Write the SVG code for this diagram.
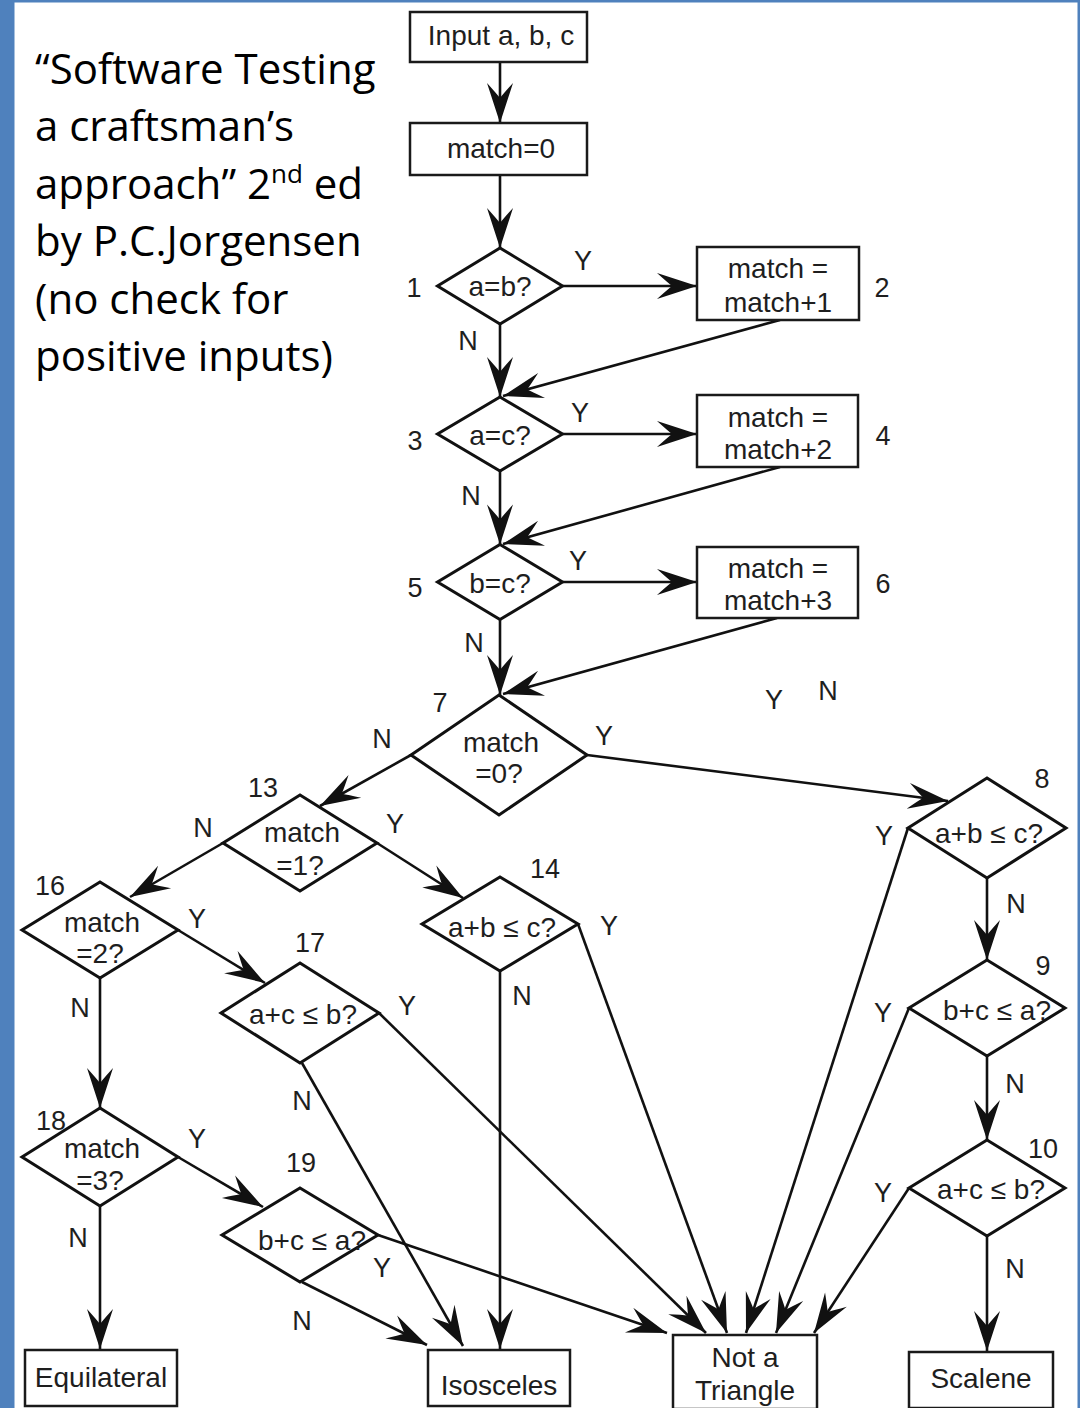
<svg xmlns="http://www.w3.org/2000/svg" width="1080" height="1408" viewBox="0 0 1080 1408">
<style>
.bx{fill:#fff;stroke:#1a1a1a;stroke-width:2.5}
.dm{fill:#fff;stroke:#111;stroke-width:3;stroke-linejoin:miter}
.t{font-family:"Liberation Sans",Arial,sans-serif;font-size:28px;fill:#1e1e1e;text-anchor:middle}
.l{font-family:"Liberation Sans",Arial,sans-serif;font-size:27px;fill:#1e1e1e;text-anchor:middle}
.ttl{font-family:"Open Sans","Liberation Sans",sans-serif;font-size:42px;fill:#000}
.c line{stroke:#111;stroke-width:2.6;marker-end:url(#ah)}
</style>
<defs>
<marker id="ah" markerUnits="userSpaceOnUse" viewBox="-42 -15 44 30" markerWidth="44" markerHeight="30" refX="0" refY="0" orient="auto">
<path d="M0,0 L-40,-13 Q-30,-4 -25,0 Q-30,4 -40,13 Z" fill="#111"/>
</marker>
</defs>
<rect x="0" y="0" width="1080" height="1408" fill="#fff"/>
<rect x="0" y="0" width="1080" height="2.5" fill="#4F81BD"/>
<rect x="0" y="0" width="14.5" height="1408" fill="#4F81BD"/>
<rect x="1077.5" y="0" width="2.5" height="1408" fill="#4F81BD"/>

<g id="title">
<text class="ttl" x="35" y="83.5">“Software Testing</text>
<text class="ttl" x="35" y="141">a craftsman’s</text>
<text class="ttl" x="35" y="198.5">approach” 2<tspan font-size="26" dy="-16">nd</tspan><tspan dy="16"> ed</tspan></text>
<text class="ttl" x="35" y="256">by P.C.Jorgensen</text>
<text class="ttl" x="35" y="313.5">(no check for</text>
<text class="ttl" x="35" y="371">positive inputs)</text>
</g>

<g class="c" id="connectors">
<line x1="500" y1="62" x2="500" y2="123"/>
<line x1="500" y1="175" x2="500" y2="248"/>
<line x1="562.5" y1="286" x2="697" y2="286"/>
<line x1="500" y1="324" x2="500" y2="397"/>
<line x1="780" y1="320" x2="503" y2="396"/>
<line x1="562.5" y1="434" x2="697" y2="434"/>
<line x1="500" y1="471" x2="500" y2="544.5"/>
<line x1="780" y1="467" x2="503" y2="544"/>
<line x1="562.5" y1="582" x2="697" y2="582"/>
<line x1="500" y1="619.5" x2="500" y2="695"/>
<line x1="777" y1="618" x2="503" y2="694"/>
<line x1="587" y1="755" x2="948" y2="801"/>
<line x1="411" y1="755" x2="320" y2="806"/>
<line x1="377" y1="843" x2="463" y2="898"/>
<line x1="223" y1="843" x2="130" y2="897"/>
<line x1="178" y1="930" x2="265" y2="983"/>
<line x1="100" y1="978" x2="100" y2="1108"/>
<line x1="178" y1="1157" x2="263" y2="1207"/>
<line x1="100" y1="1206" x2="100" y2="1349"/>
<line x1="302" y1="1282" x2="427" y2="1345"/>
<line x1="378" y1="1235" x2="667" y2="1333"/>
<line x1="302" y1="1063" x2="463" y2="1346"/>
<line x1="379" y1="1013" x2="706" y2="1333"/>
<line x1="500" y1="971" x2="500" y2="1349"/>
<line x1="578" y1="924" x2="727" y2="1333"/>
<line x1="908" y1="828" x2="746" y2="1333"/>
<line x1="987" y1="878" x2="987" y2="960"/>
<line x1="909" y1="1008" x2="776" y2="1333"/>
<line x1="987" y1="1056" x2="987" y2="1140"/>
<line x1="909" y1="1188" x2="814" y2="1333"/>
<line x1="987" y1="1236" x2="987" y2="1351"/>
</g>

<g id="input"><rect class="bx" x="410" y="12" width="177" height="50"/><text class="t" x="501" y="45">Input a, b, c</text></g>
<g id="init"><rect class="bx" x="410" y="123" width="177" height="52"/><text class="t" x="501" y="158">match=0</text></g>

<g id="n1"><polygon class="dm" points="500,248 562.5,286 500,324 437.5,286"/><text class="t" x="500" y="296">a=b?</text><text class="l" x="414" y="297">1</text><text class="l" x="583" y="270">Y</text><text class="l" x="468" y="350">N</text></g>
<g id="n2"><rect class="bx" x="697" y="247" width="162" height="73"/><text class="t" x="778" y="278">match =</text><text class="t" x="778" y="312">match+1</text><text class="l" x="882" y="297">2</text></g>

<g id="n3"><polygon class="dm" points="500,397 562.5,434 500,471 437.5,434"/><text class="t" x="500" y="445">a=c?</text><text class="l" x="415" y="450">3</text><text class="l" x="580" y="422">Y</text><text class="l" x="471" y="505">N</text></g>
<g id="n4"><rect class="bx" x="697" y="395" width="161" height="72"/><text class="t" x="778" y="427">match =</text><text class="t" x="778" y="459">match+2</text><text class="l" x="883" y="445">4</text></g>

<g id="n5"><polygon class="dm" points="500,544.5 562.5,582 500,619.5 437.5,582"/><text class="t" x="500" y="593">b=c?</text><text class="l" x="415" y="597">5</text><text class="l" x="578" y="570">Y</text><text class="l" x="474" y="652">N</text></g>
<g id="n6"><rect class="bx" x="697" y="547" width="161" height="71"/><text class="t" x="778" y="578">match =</text><text class="t" x="778" y="610">match+3</text><text class="l" x="883" y="593">6</text></g>

<g id="yn"><text class="l" x="774" y="709">Y</text><text class="l" x="828" y="700">N</text></g>

<g id="n7"><polygon class="dm" points="499,695 587,755 499,815 411,755"/><text class="t" x="501" y="752">match</text><text class="t" x="499" y="783">=0?</text><text class="l" x="440" y="712">7</text><text class="l" x="382" y="748">N</text><text class="l" x="604" y="745">Y</text></g>

<g id="n13"><polygon class="dm" points="300,795 377,843 300,891 223,843"/><text class="t" x="302" y="842">match</text><text class="t" x="300" y="875">=1?</text><text class="l" x="263" y="797">13</text><text class="l" x="395" y="833">Y</text><text class="l" x="203" y="837">N</text></g>

<g id="n14"><polygon class="dm" points="500,877 578,924 500,971 422,924"/><text class="t" x="502" y="937">a+b ≤ c?</text><text class="l" x="545" y="878">14</text><text class="l" x="609" y="935">Y</text><text class="l" x="522" y="1005">N</text></g>

<g id="n8"><polygon class="dm" points="987,778 1066,828 987,878 908,828"/><text class="t" x="989" y="843">a+b ≤ c?</text><text class="l" x="1042" y="788">8</text><text class="l" x="884" y="845">Y</text><text class="l" x="1016" y="913">N</text></g>

<g id="n9"><polygon class="dm" points="987,960 1065,1008 987,1056 909,1008"/><text class="t" x="997" y="1020">b+c ≤ a?</text><text class="l" x="1043" y="975">9</text><text class="l" x="883" y="1022">Y</text><text class="l" x="1015" y="1093">N</text></g>

<g id="n10"><polygon class="dm" points="987,1140 1065,1188 987,1236 909,1188"/><text class="t" x="991" y="1199">a+c ≤ b?</text><text class="l" x="1043" y="1158">10</text><text class="l" x="883" y="1202">Y</text><text class="l" x="1015" y="1278">N</text></g>

<g id="n16"><polygon class="dm" points="100,882 178,930 100,978 22,930"/><text class="t" x="102" y="932">match</text><text class="t" x="100" y="963">=2?</text><text class="l" x="50" y="895">16</text><text class="l" x="197" y="928">Y</text><text class="l" x="80" y="1017">N</text></g>

<g id="n17"><polygon class="dm" points="300,963 379,1013 300,1063 221,1013"/><text class="t" x="303" y="1024">a+c ≤ b?</text><text class="l" x="310" y="952">17</text><text class="l" x="407" y="1015">Y</text><text class="l" x="302" y="1110">N</text></g>

<g id="n18"><polygon class="dm" points="100,1108 178,1157 100,1206 22,1157"/><text class="t" x="102" y="1158">match</text><text class="t" x="100" y="1190">=3?</text><text class="l" x="51" y="1130">18</text><text class="l" x="197" y="1148">Y</text><text class="l" x="78" y="1247">N</text></g>

<g id="n19"><polygon class="dm" points="300,1188 378,1235 300,1282 222,1235"/><text class="t" x="312" y="1250">b+c ≤ a?</text><text class="l" x="301" y="1172">19</text><text class="l" x="382" y="1277">Y</text><text class="l" x="302" y="1330">N</text></g>

<g id="equilateral"><rect class="bx" x="25" y="1350" width="152" height="56"/><text class="t" x="101" y="1387">Equilateral</text></g>
<g id="isosceles"><rect class="bx" x="428" y="1350" width="142" height="56"/><text class="t" x="499" y="1395">Isosceles</text></g>
<g id="notatriangle"><rect class="bx" x="673" y="1335" width="144" height="74"/><text class="t" x="745" y="1367">Not a</text><text class="t" x="745" y="1400">Triangle</text></g>
<g id="scalene"><rect class="bx" x="909" y="1352" width="144" height="56"/><text class="t" x="981" y="1388">Scalene</text></g>
</svg>
